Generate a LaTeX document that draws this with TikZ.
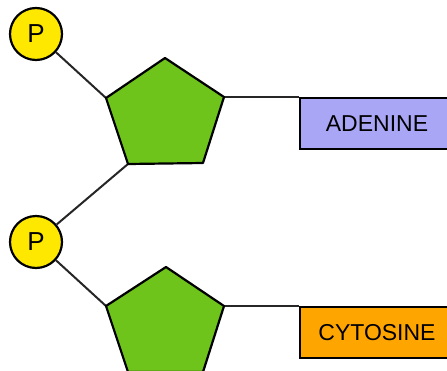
\documentclass[tikz,border=0pt]{standalone}
\usepackage{fontspec}
\setmainfont{Liberation Sans}
\definecolor{phosyellow}{HTML}{FFE800}
\definecolor{sugargreen}{HTML}{6EC41A}
\definecolor{adeninecol}{HTML}{A9A6F6}
\definecolor{cytosinecol}{HTML}{FFA500}
\begin{document}
\begin{tikzpicture}[x=1pt,y=-1pt,
  bond/.style={line width=2pt, draw=black!85},
  phos/.style={circle, draw=black, line width=2.2pt, fill=phosyellow, minimum size=52pt, inner sep=0pt, font=\fontsize{26}{26}\selectfont},
  sugar/.style={draw=black, line width=2.2pt, fill=sugargreen, line join=round},
  basebox/.style={draw=black, line width=2pt, anchor=north west, minimum width=154pt, minimum height=51pt, inner sep=0pt, font=\fontsize{23}{23}\selectfont}
]
\useasboundingbox (0,0) rectangle (447,370);
\clip (0,0) rectangle (447,370);
% top sugar
\coordinate (s1t) at (165,58);
\coordinate (s1r) at (224,97);
\coordinate (s1br) at (203,163);
\coordinate (s1bl) at (128,164);
\coordinate (s1l) at (106,98);
% bottom sugar
\coordinate (s2t) at (166,267);
\coordinate (s2r) at (224,306);
\coordinate (s2br) at (203,372);
\coordinate (s2bl) at (128,372);
\coordinate (s2l) at (106,306);
\node[phos] (p1) at (36,34) {P};
\node[phos] (p2) at (36,242) {P};
\node[basebox, fill=adeninecol] (ade) at (299,97) {ADENINE};
\node[basebox, fill=cytosinecol] (cyt) at (299,306) {CYTOSINE};
\draw[bond] (p1) -- (s1l);
\draw[bond] (s1r) -- (ade.north west);
\draw[bond] (s1bl) -- (p2);
\draw[bond] (p2) -- (s2l);
\draw[bond] (s2r) -- (cyt.north west);
\draw[sugar] (s1t) -- (s1r) -- (s1br) -- (s1bl) -- (s1l) -- cycle;
\draw[sugar] (s2t) -- (s2r) -- (s2br) -- (s2bl) -- (s2l) -- cycle;
\end{tikzpicture}
\end{document}
